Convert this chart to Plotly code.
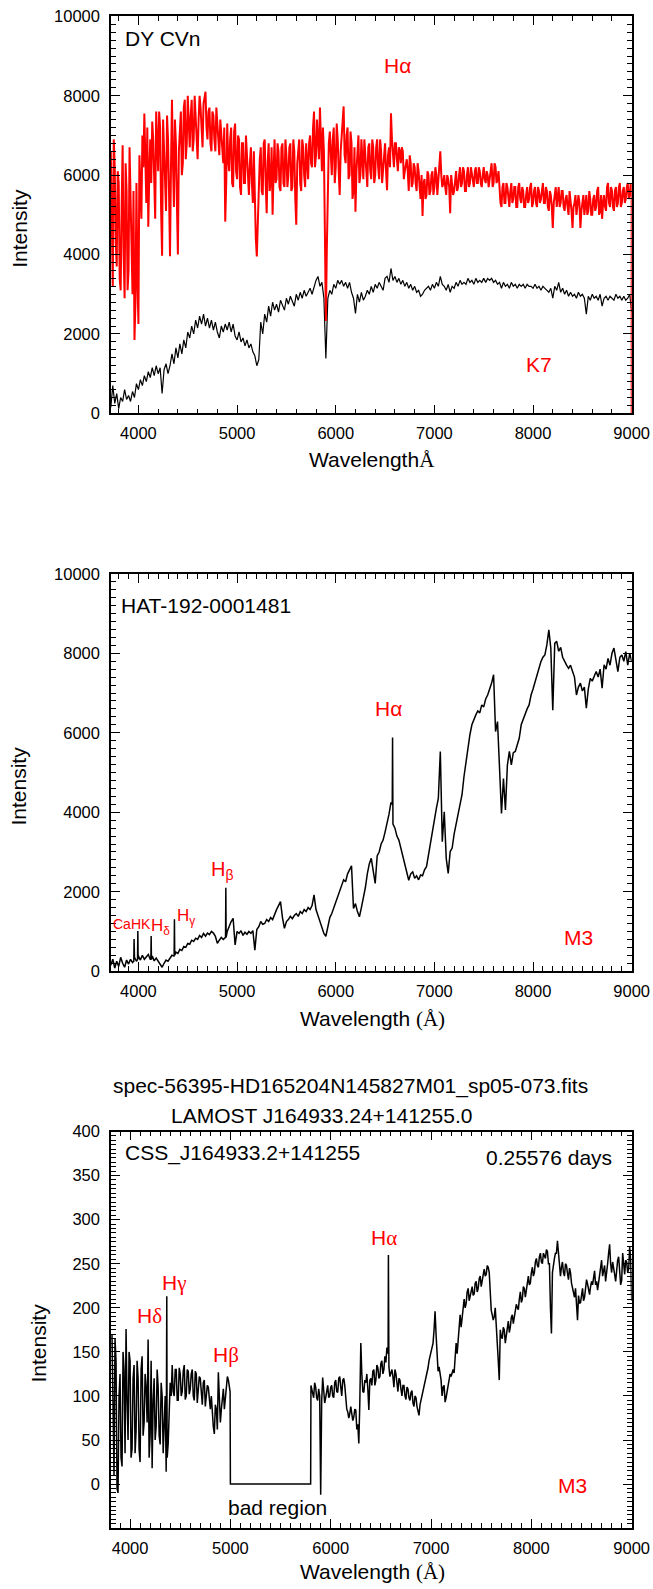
import plotly.graph_objects as go

# ---------------------------------------------------------------
# Spectra of three late-type stars (flux vs. wavelength in Angstrom)
# ---------------------------------------------------------------

# common wavelength grid of the two upper spectra (20 A sampling)
WAVE_TOP = list(range(3720, 9001, 20))
# intermediate samples of the DY CVn spectrum
WAVE_TOP_MID = list(range(3730, 9000, 20))
# wavelength grid of the LAMOST spectrum
WAVE_LAMOST = list(range(3820, 9001, 20))
# intermediate samples of the LAMOST spectrum (outside the bad region)
WAVE_LAMOST_MID = list(range(3830, 5000, 20)) + list(range(5810, 9000, 20))

# DY CVn (red)
DYCVN_FLUX = [
    6600, 3200, 6200, 3700, 5800, 3100, 6750, 2900, 5600, 3600,
    5400, 3000, 1850, 5800, 2250, 5400, 7000, 7550, 5300, 4700,
    6900, 7350, 5600, 7600, 6100, 7200, 3970, 6600, 5100, 6900,
    3960, 7900, 5200, 6800, 4000, 7300, 6000, 7700, 6400, 8000,
    6700, 7900, 6900, 7500, 6400, 8000, 7000, 7800, 8100, 6900,
    7700, 6600, 7500, 6600, 7300, 6500, 7000, 6300, 4830, 7300,
    6100, 7200, 5700, 7300, 5900, 6900, 5500, 6800, 5800, 6500,
    5500, 6700, 5300, 5000, 3950, 5600, 6700, 5500, 6900, 5040,
    6800, 5800, 5000, 6900, 5900, 6600, 5600, 6800, 5700, 6500,
    6000, 6800, 5700, 6600, 4750, 6700, 5800, 6900, 6000, 6800,
    5900, 7000, 6200, 7600, 6500, 7000, 7700, 6100, 6600, 2330,
    5900, 7100, 6000, 7200, 6200, 6900, 5500, 7000, 7730, 6300,
    7200, 6000, 6800, 5600, 5080, 6600, 5800, 6900, 5900, 6500,
    5700, 6800, 5900, 6700, 6000, 6900, 5900, 6600, 6200, 6800,
    5620, 6700, 7560, 6500, 6800, 6400, 6700, 6300, 6600, 6100,
    6400, 5600, 6300, 5800, 6200, 5600, 6100, 5400, 4970, 5900,
    5500, 6000, 5600, 6100, 5700, 6000, 5800, 6600, 5700, 6000,
    5500, 5900, 5040, 5800, 5600, 6100, 5700, 6200, 5800, 6100,
    5600, 6200, 5800, 6000, 5700, 6200, 5800, 6100, 5700, 6200,
    5800, 6000, 5900, 6300, 5800, 6200, 5900, 5500, 5200, 5800,
    5300, 5700, 5200, 5800, 5400, 5700, 5200, 5800, 5300, 5600,
    5200, 5700, 5400, 5800, 5300, 5700, 5200, 5600, 5400, 5800,
    5300, 5600, 5100, 5500, 4670, 5500, 5200, 5700, 5300, 5600,
    5100, 5500, 5000, 5400, 4670, 5300, 5000, 5500, 4670, 5300,
    5000, 5500, 5100, 5400, 5000, 5500, 5200, 5700, 5100, 4900,
    5500, 5100, 5800, 5200, 5600, 5100, 5700, 5300, 5800, 5300,
    5700, 5400, 5800, 5500, 5600,
]
DYCVN_FLUX_MID = [
    5200, 6900, 4300, 6100, 3400, 5200, 4000, 6300, 3100, 6700,
    3500, 5600, 2800, 3300, 6500, 4900, 6200, 6400, 7200, 6000,
    5800, 6900, 4900, 6600, 7600, 5100, 7400, 5800, 7500, 5600,
    6200, 6300, 7400, 5300, 6600, 7600, 6300, 7900, 6800, 7200,
    7500, 6600, 8000, 6700, 7400, 7700, 6700, 8000, 7200, 7600,
    6800, 7600, 6900, 7700, 6600, 7400, 6600, 7200, 5800, 6400,
    6900, 5800, 7100, 6100, 7000, 5700, 6800, 5800, 7000, 5700,
    6300, 5800, 6600, 4400, 5100, 6400, 5600, 6800, 5800, 6300,
    5600, 6700, 6100, 5800, 6800, 5700, 6700, 5800, 6900, 5700,
    6700, 5600, 6900, 5400, 6300, 6900, 5600, 6700, 5700, 6400,
    6800, 6300, 7200, 6200, 7400, 6400, 6600, 7200, 4600, 4200,
    6800, 6300, 6900, 5800, 7300, 6100, 6600, 7100, 6500, 7000,
    5900, 7100, 5400, 6700, 6100, 7000, 6000, 6400, 6900, 5800,
    6700, 6100, 6900, 5800, 6700, 6200, 6900, 5800, 6700, 6100,
    6500, 6200, 6900, 6200, 6800, 6100, 6600, 6700, 5900, 6300,
    6100, 6500, 5700, 6300, 5800, 6300, 5700, 6000, 5800, 5400,
    6100, 5500, 6000, 5500, 6200, 5500, 6300, 6000, 5800, 5700,
    6000, 5700, 6000, 5500, 6000, 5600, 6000, 5700, 6200, 5600,
    6000, 5700, 6200, 5800, 6100, 5800, 6200, 5800, 6000, 5900,
    6100, 5700, 6200, 5700, 6300, 5800, 6100, 5300, 5700, 5300,
    5800, 5300, 5600, 5300, 5700, 5200, 5700, 5400, 5700, 5200,
    5500, 5300, 5700, 5200, 5600, 5300, 5700, 5300, 5600, 5300,
    5700, 5200, 5600, 5200, 5300, 5700, 5400, 5200, 5600, 5200,
    5400, 5200, 5600, 5100, 5200, 5500, 5200, 5300, 5100, 5500,
    5300, 5000, 5600, 5000, 5400, 5100, 5600, 5000, 5500, 5300,
    5200, 5700, 5300, 5700, 5200, 5600, 5200, 5700, 5200, 5600,
    5300, 5700, 5400, 5800,
]
# end of the recorded DY CVn spectrum
DYCVN_EDGE_WAVE = [9000]
DYCVN_EDGE_FLUX = [0]

# K7 template (black)
K7_FLUX = [
    150, 700, 250, 500, 120, 400, 300, 600, 350, 450,
    300, 550, 400, 750, 600, 850, 700, 950, 800, 1050,
    900, 1150, 950, 1200, 1000, 1150, 500, 1100, 1250, 1000,
    1200, 1500, 1250, 1650, 1400, 1750, 1500, 1850, 1650, 2050,
    1900, 2200, 2000, 2350, 2150, 2450, 2250, 2500, 2200, 2400,
    2150, 2350, 2100, 2300, 2050, 1900, 2200, 2050, 2250, 2100,
    2300, 2050, 2250, 1950, 1850, 2050, 1800, 1900, 1700, 1850,
    1650, 1750, 1550, 1450, 1200, 1350, 2300, 2000, 2500, 2300,
    2700, 2450, 2800, 2600, 2750, 2550, 2850, 2700, 2600, 2900,
    2750, 2950, 2800, 2700, 3000, 2850, 3050, 2900, 3100, 2950,
    3050, 3150, 3000, 3200, 3350, 3450, 3200, 3300, 2900, 1380,
    2900, 3100, 3000, 3250, 3150, 3350, 3250, 3350, 3200, 3300,
    3150, 3300, 3050, 2900, 2520, 3000, 2800, 3050, 2850, 2950,
    3100, 3000, 3200, 3050, 3250, 3150, 3300, 3200, 3100, 3400,
    3450, 3300, 3650, 3350, 3450, 3300, 3400, 3250, 3350, 3200,
    3300, 3150, 3250, 3100, 3200, 3050, 3100, 2950, 3000, 3100,
    3150, 3200, 3100, 3250, 3150, 3300, 3200, 3450, 3250, 3200,
    3100, 3250, 3050, 3200, 3150, 3300, 3200, 3350, 3250, 3300,
    3250, 3400, 3300, 3350, 3250, 3400, 3300, 3350, 3300, 3400,
    3300, 3400, 3350, 3400, 3300, 3350, 3250, 3300, 3150, 3300,
    3200, 3250, 3150, 3300, 3200, 3250, 3150, 3250, 3200, 3250,
    3150, 3250, 3200, 3200, 3150, 3250, 3150, 3200, 3100, 3200,
    3150, 3100, 3050, 3150, 2900, 3200, 3100, 3300, 3050, 3150,
    3000, 3100, 2950, 3050, 2950, 3000, 2900, 3050, 2950, 3000,
    2900, 2500, 2950, 2850, 3000, 2900, 2950, 2850, 3000, 2700,
    2900, 2950, 2850, 2950, 2900, 2850, 3000, 2900, 2950, 2850,
    2950, 2850, 2900, 3000, 2550,
]

# HAT-192-0001481 continuum
HAT_FLUX = [
    150, 300, 80, 250, 120, 350, 200, 100, 280, 180,
    300, 220, 350, 250, 380, 280, 400, 300, 350, 420,
    300, 380, 260, 330, 250, 150, 100, 200, 280, 250,
    320, 400, 380, 480, 450, 550, 520, 620, 600, 700,
    680, 780, 750, 830, 800, 900, 850, 950, 880, 960,
    920, 1000, 960, 880, 700, 780, 850, 800, 850, 1000,
    1150, 1250, 1330, 660, 1000, 950, 1020, 900, 980, 930,
    1000, 950, 1020, 530, 1050, 1120, 1250, 1180, 1200, 1300,
    1250, 1350, 1300, 1450, 1550, 1650, 1750, 1350, 1080, 1250,
    1300, 1380, 1320, 1400, 1450, 1380, 1500, 1450, 1550, 1500,
    1600, 1550, 1650, 1920, 1550, 1400, 1250, 1100, 950, 880,
    1100, 1350, 1450, 1600, 1750, 1900, 2000, 2150, 2300, 2250,
    2450, 2550, 2650, 1580, 1700, 1500, 1370, 1600, 1850, 2100,
    2450, 2700, 2840, 2500, 2210, 2900, 3000, 3200, 3300, 3500,
    3700, 3950, 4250, 3700, 3600, 3400, 3300, 3100, 2900, 2650,
    2500, 2290, 2450, 2500, 2340, 2400, 2300, 2420, 2400, 2550,
    2630, 2920, 3300, 3600, 3850, 4100, 4350, 5530, 3260, 4010,
    2840, 2460, 3010, 3100, 3450, 3700, 3930, 4200, 4440, 4900,
    5300, 5600, 5950, 6200, 6350, 6450, 6550, 6500, 6700, 6650,
    6850, 6950, 7100, 7250, 7460, 6030, 6280, 5200, 3970, 4850,
    4060, 5190, 5530, 5190, 5500, 5530, 5700, 5860, 6200, 6350,
    6450, 6600, 6700, 6950, 7100, 7290, 7450, 7600, 7790, 7900,
    7960, 8210, 8590, 8130, 6570, 8250, 8300, 8050, 8150, 7900,
    7790, 7700, 7620, 7700, 7550, 7400, 6950, 7150, 7250, 7050,
    7150, 6620, 7100, 7370, 7300, 7450, 7540, 7400, 7600, 7120,
    7710, 7600, 7870, 7700, 8000, 8130, 7800, 7540, 7900, 7960,
    7800, 8040, 7700, 8000, 7790,
]
# narrow emission lines of HAT-192-0001481 (Ca II H&K, Hdelta, Hgamma, Hbeta, Halpha)
HAT_LINE_WAVE = [3953, 3956, 3959, 3991, 3994, 3997, 4126, 4129, 4132,
                 4362, 4365, 4368, 4883, 4886, 4889, 6573, 6576, 6579]
HAT_LINE_FLUX = [250, 810, 250, 300, 1010, 300, 300, 885, 300,
                 400, 1310, 400, 850, 2100, 850, 4200, 5880, 3700]

# LAMOST spectrum of CSS_J164933.2+141255 (bad region stored as zero)
CSS_FLUX = [
    170, 10, 140, -10, 125, 20, 130, 176, 50, 140,
    40, 135, 60, 120, 25, 145, 70, 110, 164, 55,
    18, 120, 65, 110, 45, 100, 60, 14, 46, 115,
    135, 100, 130, 95, 125, 105, 135, 100, 128, 108,
    130, 95, 125, 105, 120, 90, 118, 100, 110, 85,
    80, 57, 85, 127, 70, 95, 85, 110, 118, 0,
    0, 0, 0, 0, 0, 0, 0, 0, 0, 0,
    0, 0, 0, 0, 0, 0, 0, 0, 0, 0,
    0, 0, 0, 0, 0, 0, 0, 0, 0, 0,
    0, 0, 0, 0, 0, 0, 0, 0, 0, 0,
    105, 115, 98, 108, -12, 121, 92, 105, 98, 110,
    100, 115, 105, 120, 110, 118, 112, 85, 75, 88,
    72, 85, 62, 46, 160, 105, 118, 125, 84, 120,
    128, 112, 135, 120, 137, 125, 145, 155, 133, 128,
    122, 130, 115, 120, 108, 112, 100, 110, 98, 104,
    92, 100, 88, 78, 95, 105, 118, 128, 140, 152,
    160, 196, 150, 133, 118, 110, 93, 105, 118, 122,
    130, 142, 148, 172, 178, 204, 200, 218, 208, 222,
    214, 228, 218, 233, 224, 238, 236, 248, 240, 197,
    186, 200, 150, 118, 167, 178, 160, 182, 172, 189,
    182, 198, 200, 210, 206, 224, 212, 232, 226, 240,
    236, 252, 248, 258, 252, 262, 256, 264, 250, 171,
    250, 262, 276, 250, 246, 240, 250, 239, 245, 228,
    216, 222, 186, 205, 216, 208, 222, 227, 215, 230,
    235, 226, 220, 238, 254, 242, 230, 250, 272, 240,
    242, 230, 254, 235, 231, 250, 254, 240, 269, 208,
]
CSS_FLUX_MID = [
    60, 165, -5, 100, 30, 150, 35, 95, 150, 30,
    120, 35, 140, 40, 130, 55, 125, 70, 30, 140,
    95, 50, 130, 55, 115, 35, 100, 30, 80, 100,
    105, 130, 95, 132, 100, 128, 96, 130, 102, 125,
    100, 128, 92, 122, 98, 115, 88, 112, 90, 100,
    65, 90, 62, 100, 85, 108, 95, 122, 110,
    108, 98, 110, 95, 100, 95, 110, 98, 112, 100,
    112, 98, 118, 104, 122, 100, 120, 95, 82, 80,
    80, 76, 84, 68, 92, 125, 104, 115, 108, 118,
    112, 130, 118, 132, 122, 140, 130, 138, 148, 122,
    130, 110, 125, 105, 118, 100, 112, 96, 108, 95,
    106, 88, 98, 84, 90, 100, 110, 122, 132, 145,
    155, 175, 170, 128, 125, 100, 112, 98, 112, 125,
    128, 126, 160, 160, 192, 190, 210, 205, 222, 214,
    224, 216, 230, 222, 236, 230, 244, 238, 246, 215,
    192, 190, 180, 140, 175, 165, 175, 168, 185, 178,
    192, 188, 204, 198, 218, 210, 222, 220, 236, 228,
    246, 240, 256, 246, 262, 250, 258, 266, 250, 200,
    240, 256, 262, 260, 236, 252, 236, 248, 232, 240,
    222, 212, 200, 214, 206, 222, 212, 232, 220, 224,
    226, 242, 230, 228, 246, 236, 248, 238, 262, 250,
    252, 238, 244, 258, 226, 262, 238, 252, 244, 255,
]
# Hgamma / Halpha emission and the edges of the bad region
CSS_LINE_WAVE = [4363, 4366, 4369, 4997, 5803, 6572, 6575, 6578]
CSS_LINE_FLUX = [60, 213, 60, 105, 112, 150, 260, 140]


def merge(*pairs):
    """Combine several (wavelength, flux) sample sets into one sorted spectrum."""
    pts = []
    for wave, flux in pairs:
        pts.extend(zip(wave, flux))
    pts.sort(key=lambda p: p[0])
    return [p[0] for p in pts], [p[1] for p in pts]


W, H = 653, 1589
SANS = "Liberation Sans, Arial, Helvetica, sans-serif"
SERIF = "Liberation Serif, Times New Roman, serif"
RED = "#ff0000"
TXT = 21


def fx(p):
    return p / W


def fy(p):
    return 1 - p / H


fig = go.Figure()

# panel 1: DY CVn and K7 template
fig.add_trace(go.Scatter(x=WAVE_TOP, y=K7_FLUX, mode="lines",
                         line=dict(color="black", width=1.2),
                         xaxis="x", yaxis="y", hoverinfo="skip"))
w, f = merge((WAVE_TOP, DYCVN_FLUX), (WAVE_TOP_MID, DYCVN_FLUX_MID),
             (DYCVN_EDGE_WAVE, DYCVN_EDGE_FLUX))
fig.add_trace(go.Scatter(x=w, y=f, mode="lines",
                         line=dict(color=RED, width=2),
                         xaxis="x", yaxis="y", hoverinfo="skip"))

# panel 2: HAT-192-0001481
w, f = merge((WAVE_TOP, HAT_FLUX), (HAT_LINE_WAVE, HAT_LINE_FLUX))
fig.add_trace(go.Scatter(x=w, y=f, mode="lines",
                         line=dict(color="black", width=1.5),
                         xaxis="x2", yaxis="y2", hoverinfo="skip"))

# panel 3: LAMOST spectrum
w, f = merge((WAVE_LAMOST, CSS_FLUX), (WAVE_LAMOST_MID, CSS_FLUX_MID),
             (CSS_LINE_WAVE, CSS_LINE_FLUX))
fig.add_trace(go.Scatter(x=w, y=f, mode="lines",
                         line=dict(color="black", width=1.5),
                         xaxis="x3", yaxis="y3", hoverinfo="skip"))


def axis(rng, domain, anchor, major, minor, **kw):
    d = dict(range=rng, domain=domain, anchor=anchor, automargin=False,
             showline=True, mirror="allticks", linecolor="black", linewidth=1.5,
             ticks="inside", ticklen=9, tickwidth=1, tickcolor="black",
             showgrid=False, zeroline=False, tickformat="d",
             tickfont=dict(family=SANS, size=16.5, color="black"),
             minor=dict(ticks="inside", ticklen=5, tickwidth=1, tickcolor="black",
                        dtick=minor, showgrid=False),
             dtick=major, tick0=0, fixedrange=True)
    d.update(kw)
    return d


XDOM = [fx(111), fx(631.7)]
Y1 = [fy(413.4), fy(16.3)]
Y2 = [fy(971.2), fy(573.8)]
Y3 = [fy(1528.2), fy(1131.5)]

fig.update_layout(
    width=W, height=H,
    margin=dict(l=0, r=0, t=0, b=0, autoexpand=False),
    paper_bgcolor="white", plot_bgcolor="white",
    showlegend=False,
    xaxis=axis([3722, 9000], XDOM, "y", 1000, 200, ticklabelstandoff=4),
    yaxis=axis([0, 10000], Y1, "x", 2000, 200, ticklabelstandoff=6),
    xaxis2=axis([3722, 9000], XDOM, "y2", 1000, 100, ticklabelstandoff=4),
    yaxis2=axis([0, 10000], Y2, "x2", 2000, 200, ticklabelstandoff=6),
    xaxis3=axis([3810, 9000], XDOM, "y3", 1000, 100, ticklabelstandoff=4),
    yaxis3=axis([-50, 400], Y3, "x3", 50, 5, ticklabelstandoff=6,
                tickmode="array", tickvals=[0, 50, 100, 150, 200, 250, 300, 350, 400]),
)


def note(text, x, y, xref, yref, size=TXT, color="black", xanchor="center",
         yanchor="middle", angle=0, family=SANS):
    fig.add_annotation(text=text, x=x, y=y, xref=xref, yref=yref,
                       showarrow=False, xanchor=xanchor, yanchor=yanchor,
                       textangle=angle,
                       font=dict(family=family, size=size, color=color))


def serif(s):
    return '<span style="font-family:%s">%s</span>' % (SERIF, s)


# axis titles
note("Intensity", fx(18.8), fy(228), "paper", "paper", angle=-90)
note("Intensity", fx(18.8), fy(785.7), "paper", "paper", angle=-90)
note("Intensity", fx(37.5), fy(1343), "paper", "paper", angle=-90)
note("Wavelength" + serif("Å"), fx(372), fy(460), "paper", "paper")
note("Wavelength " + serif("(Å)"), fx(372.6), fy(1019), "paper", "paper")
note("Wavelength " + serif("(Å)"), fx(372.6), fy(1572), "paper", "paper")

# titles of the LAMOST spectrum
note("spec-56395-HD165204N145827M01_sp05-073.fits", fx(350), fy(1086), "paper", "paper")
note("LAMOST J164933.24+141255.0", fx(321), fy(1115), "paper", "paper")

# panel 1 labels
note("DY CVn", 3848, 9450, "x", "y", xanchor="left")
note("Hα", 6624, 8750, "x", "y", color=RED)
note("K7", 8057, 1220, "x", "y", color=RED)

# panel 2 labels
note("HAT-192-0001481", 3804, 9215, "x2", "y2", xanchor="left")
note("CaHK", 3933, 1180, "x2", "y2", size=14, color=RED)
note("H<sub>δ</sub>", 4224, 1120, "x2", "y2", size=17, color=RED)
note("H<sub>γ</sub>", 4483, 1370, "x2", "y2", size=17, color=RED)
note("H<sub>β</sub>", 4848, 2530, "x2", "y2", size=20, color=RED)
note("Hα", 6533, 6615, "x2", "y2", color=RED)
note("M3", 8462, 843, "x2", "y2", color=RED)

# panel 3 labels
note("CSS_J164933.2+141255", 3933, 375.6, "x3", "y3", xanchor="left")
note("0.25576 days", 8827, 370, "x3", "y3", xanchor="right")
note("H" + serif("γ"), 4438, 228, "x3", "y3", color=RED)
note("H" + serif("δ"), 4192, 191, "x3", "y3", color=RED)
note("H" + serif("β"), 4954, 146, "x3", "y3", color=RED)
note("H" + serif("α"), 6531, 279, "x3", "y3", color=RED)
note("bad region", 5468, -26, "x3", "y3")
note("M3", 8408, -1, "x3", "y3", color=RED)

fig.write_html("out.html")
